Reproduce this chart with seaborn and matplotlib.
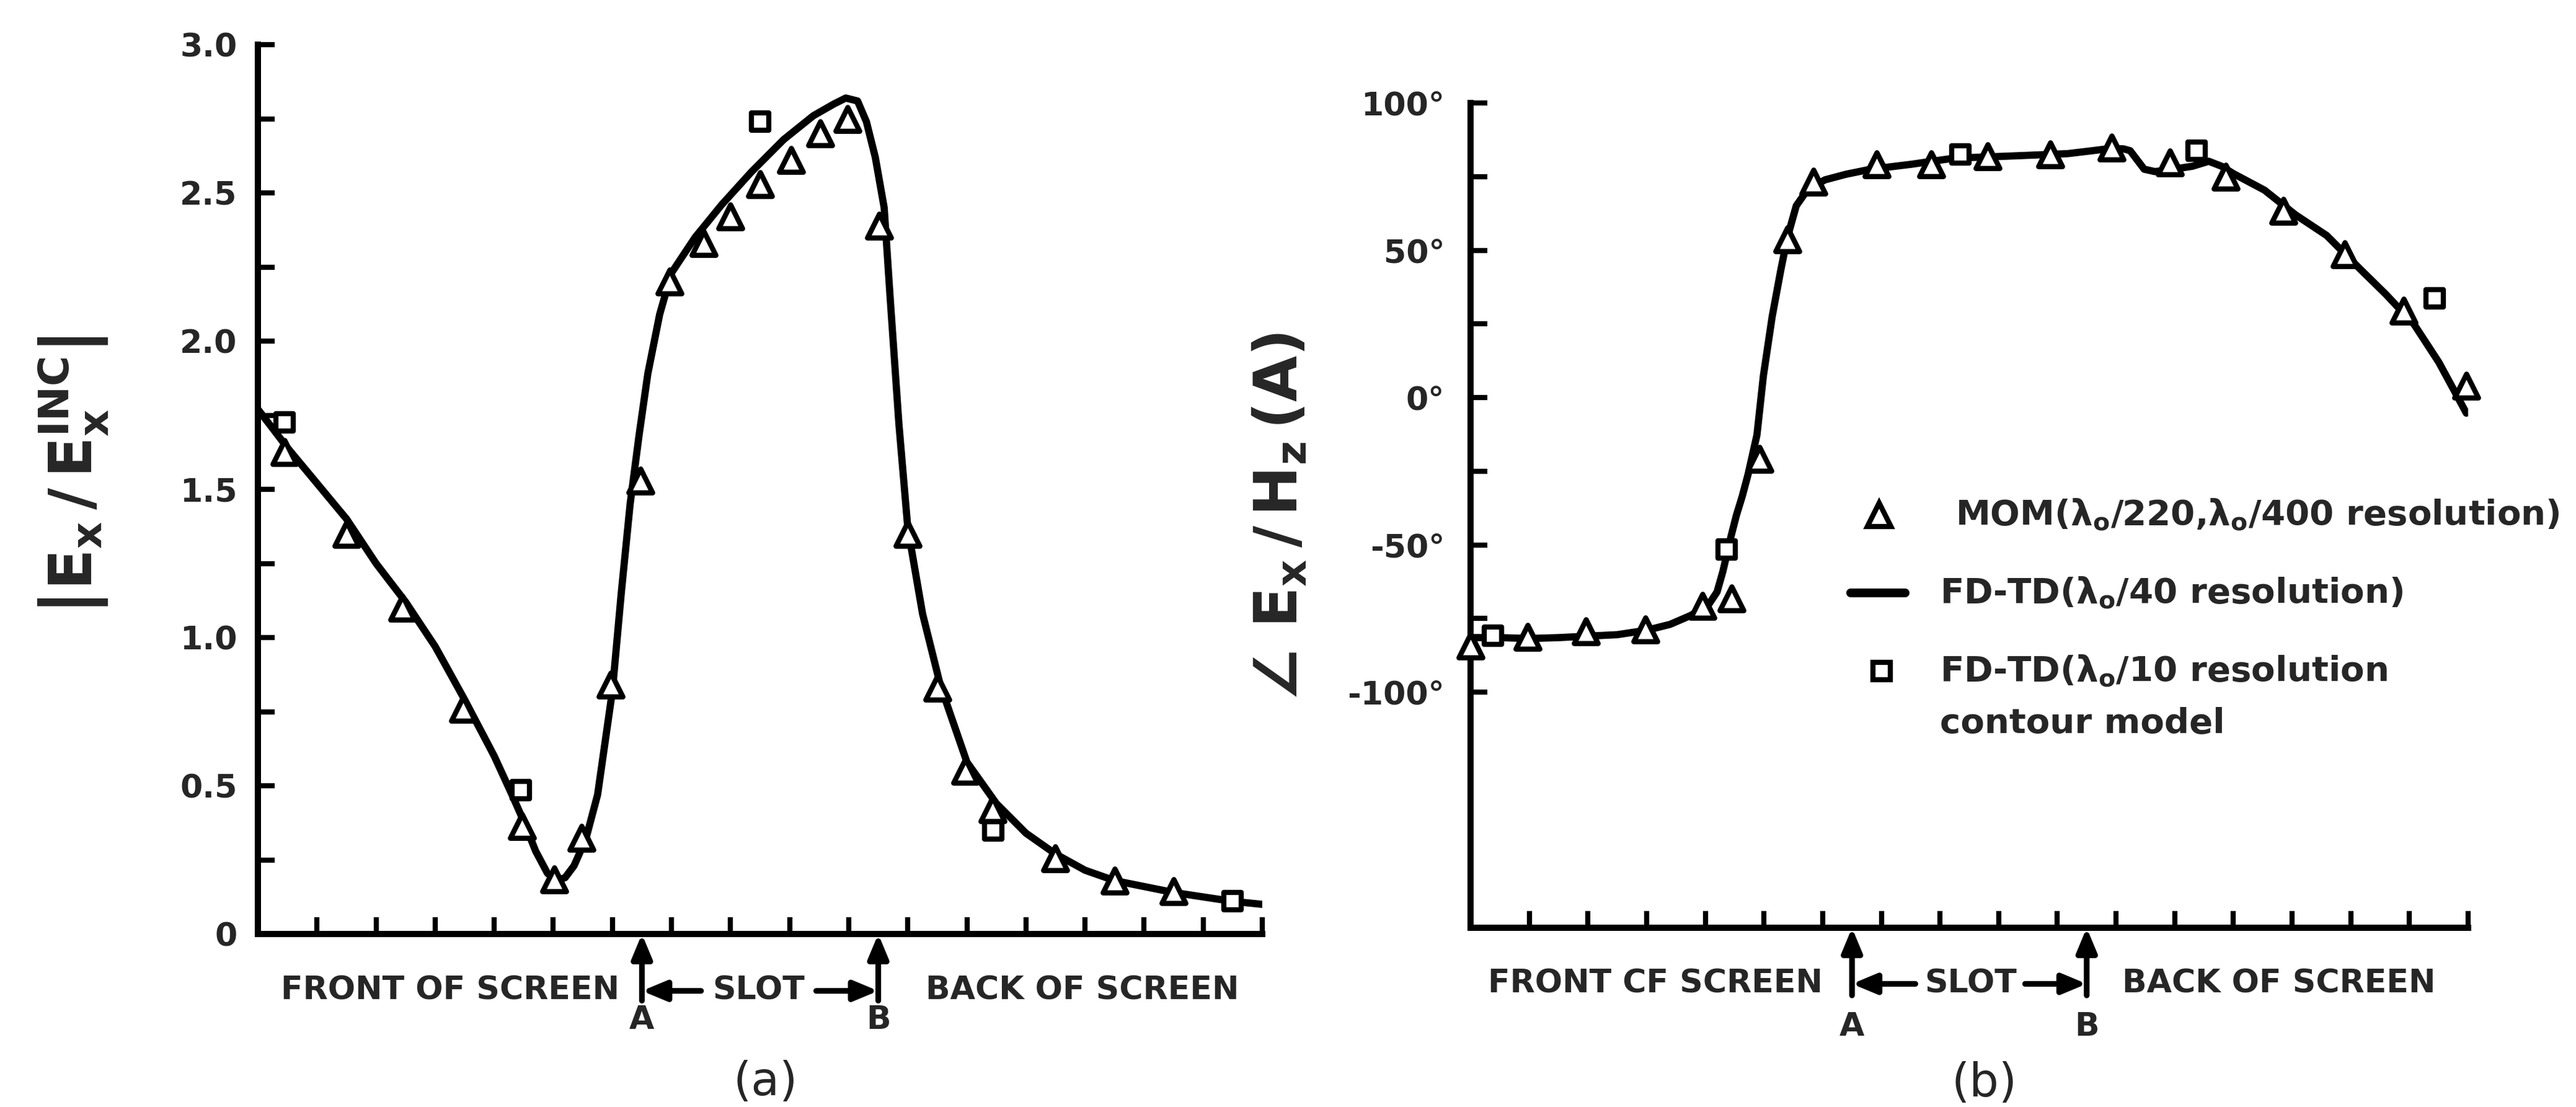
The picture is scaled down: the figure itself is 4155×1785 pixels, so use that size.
import matplotlib
matplotlib.use("Agg")
import matplotlib.pyplot as plt
import seaborn as sns
from matplotlib.lines import Line2D

# ---------------- data ----------------
# Panel (a): |Ex / Ex_inc|
a_curve_x = [0, 0.5, 1.0, 1.5, 2.0, 2.5, 3.0, 3.5, 4.0, 4.3, 4.5, 4.7, 4.9, 5.05, 5.2, 5.35,
             5.55, 5.75, 6.0, 6.15, 6.3, 6.45, 6.6, 6.8, 7.0, 7.4, 7.85, 8.35, 8.9, 9.4, 9.75,
             9.95, 10.15, 10.3, 10.45, 10.6, 10.7, 10.85, 11.0, 11.25, 11.55, 12.0, 12.5, 13.0,
             13.5, 14.0, 14.5, 15.0, 15.5, 16.0, 16.5, 17.0]
a_curve_y = [1.77, 1.64, 1.52, 1.40, 1.25, 1.12, 0.97, 0.79, 0.60, 0.47, 0.38, 0.28, 0.205, 0.18,
             0.19, 0.23, 0.32, 0.47, 0.82, 1.15, 1.45, 1.68, 1.89, 2.09, 2.23, 2.35, 2.46, 2.57,
             2.68, 2.76, 2.80, 2.82, 2.81, 2.74, 2.62, 2.45, 2.15, 1.72, 1.37, 1.08, 0.84, 0.58,
             0.44, 0.34, 0.27, 0.215, 0.18, 0.16, 0.14, 0.125, 0.11, 0.10]
a_mom_x = [0.45, 1.5, 2.45, 3.47, 4.47, 5.02, 5.48, 5.97, 6.47, 6.97, 7.55, 8.0, 8.5, 9.02,
           9.52, 9.98, 10.52, 11.0, 11.5, 11.97, 12.44, 13.5, 14.5, 15.5]
a_mom_y = [1.625, 1.35, 1.10, 0.76, 0.365, 0.185, 0.325, 0.84, 1.53, 2.20, 2.33, 2.42, 2.53,
           2.61, 2.70, 2.75, 2.39, 1.35, 0.83, 0.55, 0.42, 0.256, 0.18, 0.145]
a_sq_x = [0.45, 4.45, 8.5, 12.45, 16.5]
a_sq_y = [1.725, 0.485, 2.74, 0.35, 0.11]

# Panel (b): phase of Ex / Hz (degrees)
b_curve_x = [0, 0.5, 1.0, 1.5, 2.0, 2.5, 3.0, 3.4, 3.75, 4.05, 4.2, 4.3, 4.44, 4.53, 4.63, 4.73,
             4.88, 4.99, 5.14, 5.29, 5.4, 5.55, 5.74, 6.04, 6.4, 6.77, 7.15, 7.52, 7.9, 8.26,
             8.7, 9.1, 9.6, 10.18, 10.6, 10.92, 11.13, 11.24, 11.48, 11.66, 11.9, 12.1, 12.3,
             12.58, 12.8, 13.0, 13.53, 14.06, 14.59, 15.16, 15.6, 16.08, 16.5, 16.97]
b_curve_y = [-81.5, -81.5, -81.8, -81.5, -81.0, -80.5, -79.0, -77.0, -74.0, -70.5, -66.0, -59.0,
             -47.0, -40.0, -33.5, -26.0, -12.7, 7.4, 27.5, 43.6, 54.4, 65.1, 70.5, 73.9, 75.8,
             77.3, 78.3, 79.2, 80.3, 81.3, 81.6, 81.9, 82.3, 82.8, 83.8, 84.6, 84.4, 83.8, 77.5,
             76.7, 77.2, 77.9, 78.5, 80.2, 78.5, 76.0, 70.4, 62.0, 55.0, 43.6, 35.0, 24.8, 12.0,
             -5.3]
b_mom_x = [0.0, 0.97, 1.96, 2.98, 3.95, 4.45, 4.92, 5.40, 5.84, 6.92, 7.85, 8.81, 9.88, 10.92,
           11.92, 12.87, 13.85, 14.9, 15.9, 16.97]
b_mom_y = [-84.3, -81.3, -79.3, -78.7, -70.7, -68.2, -20.8, 53.7, 73.3, 79.2, 79.2, 81.9, 82.5,
           84.8, 79.8, 74.9, 63.4, 48.6, 29.5, 4.0]
b_sq_x = [0.38, 4.36, 8.35, 12.37, 16.43]
b_sq_y = [-80.8, -51.6, 82.5, 83.8, 33.6]

a_yticks = [0, 0.5, 1.0, 1.5, 2.0, 2.5, 3.0]
a_yticklabels = ["0", "0.5", "1.0", "1.5", "2.0", "2.5", "3.0"]
b_yticks = [-100, -50, 0, 50, 100]
b_yticklabels = ["-100°", "-50°", "0°", "50°", "100°"]
slot_a, slot_b = 6.5, 10.5

legend_labels = [r"MOM($\lambda_o$/220,$\lambda_o$/400 resolution)",
                 r"FD-TD($\lambda_o$/40 resolution)",
                 r"FD-TD($\lambda_o$/10 resolution",
                 "contour model"]

# ---------------- style ----------------
sns.set_style("ticks")
plt.rcParams["font.family"] = ["DejaVu Sans"]
plt.rcParams["font.weight"] = "bold"
plt.rcParams["mathtext.default"] = "bf"

W, H = 4155, 1785
DPI = 300
fig = plt.figure(figsize=(W / DPI, H / DPI), dpi=DPI)
fig.patch.set_facecolor("white")

axa = fig.add_axes([416 / W, 1 - 1506 / H, (2036 - 416) / W, (1506 - 72) / H])
axb = fig.add_axes([2372 / W, 1 - 1496 / H, (3981 - 2372) / W, (1496 - 166) / H])

LW_CURVE = 2.8
TXT = 12.5
for ax in (axa, axb):
    ax.set_facecolor("white")
    for s in ("top", "right"):
        ax.spines[s].set_visible(False)
    for s in ("left", "bottom"):
        ax.spines[s].set_linewidth(2.4)
        ax.spines[s].set_color("black")
    ax.set_xlim(0, 17)
    ax.set_xticks(range(1, 18))
    ax.tick_params(axis="both", which="both", direction="in", length=6.5, width=2.0,
                   color="black")
    ax.tick_params(axis="x", labelbottom=False)
    ax.tick_params(axis="y", labelsize=12.5, pad=8)

# ---- panel (a)
sns.lineplot(x=a_curve_x, y=a_curve_y, ax=axa, color="black", lw=LW_CURVE, sort=False,
             estimator=None, zorder=2)
sns.scatterplot(x=a_mom_x, y=a_mom_y, ax=axa, marker="^", s=85, color="white",
                edgecolor="black", linewidth=2.0, zorder=3, clip_on=False)
sns.scatterplot(x=a_sq_x, y=a_sq_y, ax=axa, marker="s", s=45, color="white",
                edgecolor="black", linewidth=2.0, zorder=3, clip_on=False)
axa.set_ylim(0, 3.0)
axa.set_yticks(a_yticks)
axa.set_yticklabels(a_yticklabels)
axa.set_yticks([0.25, 0.75, 1.25, 1.75, 2.25, 2.75], minor=True)
axa.set_xlabel("")
axa.set_ylabel("")

# ---- panel (b)
sns.lineplot(x=b_curve_x, y=b_curve_y, ax=axb, color="black", lw=LW_CURVE, sort=False,
             estimator=None, zorder=2)
sns.scatterplot(x=b_mom_x, y=b_mom_y, ax=axb, marker="^", s=85, color="white",
                edgecolor="black", linewidth=2.0, zorder=3, clip_on=False)
sns.scatterplot(x=b_sq_x, y=b_sq_y, ax=axb, marker="s", s=45, color="white",
                edgecolor="black", linewidth=2.0, zorder=3, clip_on=False)
axb.set_ylim(-180, 100)
axb.set_yticks(b_yticks)
axb.set_yticklabels(b_yticklabels)
axb.set_yticks([-75, -25, 25, 75], minor=True)
axb.tick_params(axis="y", pad=10)
axb.set_xlabel("")
axb.set_ylabel("")

# ---- slot annotations under the x axes
arrow_kw = dict(arrowstyle="-|>,head_length=0.6,head_width=0.25", color="black",
                lw=2.2, mutation_scale=13, shrinkA=0, shrinkB=0)


def slot_marks(ax, front_label, row_y, line_y, letter_y, front_right, back_left,
               slot_left, slot_right, slot_center):
    co = ("data", "axes fraction")
    for xv, lab in ((slot_a, "A"), (slot_b, "B")):
        ax.annotate("", xy=(xv, 0), xycoords=co, xytext=(xv, line_y), textcoords=co,
                    arrowprops=arrow_kw, annotation_clip=False)
        ax.annotate(lab, xy=(xv, letter_y), xycoords=co, ha="center", va="center",
                    fontsize=TXT, annotation_clip=False)
    ax.annotate("", xy=(slot_a, row_y), xycoords=co, xytext=(slot_left, row_y),
                textcoords=co, arrowprops=arrow_kw, annotation_clip=False)
    ax.annotate("", xy=(slot_b, row_y), xycoords=co, xytext=(slot_right, row_y),
                textcoords=co, arrowprops=arrow_kw, annotation_clip=False)
    ax.annotate("SLOT", xy=(slot_center, row_y), xycoords=co, ha="center", va="center",
                fontsize=TXT, annotation_clip=False)
    ax.annotate(front_label, xy=(front_right, row_y), xycoords=co, ha="right",
                va="center", fontsize=TXT, annotation_clip=False)
    ax.annotate("BACK OF SCREEN", xy=(back_left, row_y), xycoords=co, ha="left",
                va="center", fontsize=TXT, annotation_clip=False)


slot_marks(axa, "FRONT OF SCREEN", row_y=-0.064, line_y=-0.075, letter_y=-0.097,
           front_right=6.12, back_left=11.3, slot_left=7.5, slot_right=9.45, slot_center=8.47)
slot_marks(axb, "FRONT CF SCREEN", row_y=-0.068, line_y=-0.082, letter_y=-0.120,
           front_right=6.0, back_left=11.1, slot_left=7.58, slot_right=9.45, slot_center=8.52)

fig.text(1235 / W, 1 - 1745 / H, "(a)", ha="center", va="center", fontsize=18,
         fontweight="normal")
fig.text(3201 / W, 1 - 1748 / H, "(b)", ha="center", va="center", fontsize=18,
         fontweight="normal")

# ---- axis titles (rotated)
fig.text(118 / W, 1 - 767 / H, r"$\left|E_x\,/\,E_x^{INC}\right|$", rotation=90,
         ha="center", va="center", fontsize=23)
fig.text(2066 / W, 1 - 834 / H, r"$\angle\ E_x\,/\,H_z\,(A)$", rotation=90,
         ha="center", va="center", fontsize=23)

# ---- legend (drawn in panel b area)
tf = fig.transFigure
fig.add_artist(Line2D([3031 / W], [1 - 830 / H], transform=tf, marker="^", markersize=9,
                      markerfacecolor="white", markeredgecolor="black", markeredgewidth=2.0,
                      linestyle="none"))
fig.add_artist(Line2D([2985 / W, 3073 / W], [1 - 956 / H, 1 - 956 / H], transform=tf,
                      color="black", lw=LW_CURVE + 0.6, solid_capstyle="round"))
fig.add_artist(Line2D([3035 / W], [1 - 1082 / H], transform=tf, marker="s", markersize=6.5,
                      markerfacecolor="white", markeredgecolor="black", markeredgewidth=2.0,
                      linestyle="none"))
LEG = 13.5
fig.text(3154 / W, 1 - 830 / H, legend_labels[0], ha="left", va="center", fontsize=LEG)
fig.text(3129 / W, 1 - 956 / H, legend_labels[1], ha="left", va="center", fontsize=LEG)
fig.text(3129 / W, 1 - 1082 / H, legend_labels[2], ha="left", va="center", fontsize=LEG)
fig.text(3129 / W, 1 - 1167 / H, legend_labels[3], ha="left", va="center", fontsize=LEG)

fig.savefig("out.png", dpi=DPI, facecolor="white")
